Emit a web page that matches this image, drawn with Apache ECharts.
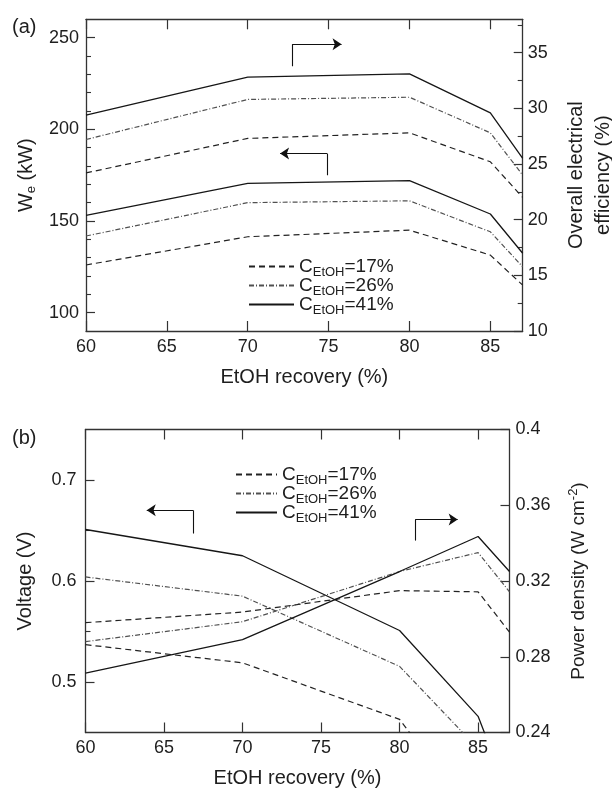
<!DOCTYPE html>
<html>
<head>
<meta charset="utf-8">
<script src="https://cdn.jsdelivr.net/npm/echarts@6/dist/echarts.min.js"></script>
<style>
  html, body { margin: 0; padding: 0; background: #fff; }
  #chart { width: 612px; height: 789px; }
</style>
</head>
<body>
<div id="chart"></div>
<script>
// EtOH recovery (%) at which each case was evaluated
const recovery = [60, 70, 80, 85, 87];
const concLabels = ['17%', '26%', '41%'];

// (a) electrical power output W_e (kW), left axis
const power17 = [126, 141.4, 145, 131.4, 115];
const power26 = [141.8, 160, 161, 144.1, 125];
const power41 = [153.1, 170.5, 172, 153.8, 132.4];

// (a) overall electrical efficiency (%), right axis
const eff17 = [24.2, 27.3, 27.8, 25.2, 22.0];
const eff26 = [27.2, 30.8, 31.0, 27.8, 24.0];
const eff41 = [29.4, 32.8, 33.1, 29.6, 25.5];

// (b) cell voltage (V), left axis
const volt17 = [0.537, 0.519, 0.463, 0.36, 0.33];
const volt26 = [0.604, 0.585, 0.5155, 0.434, 0.40];
const volt41 = [0.651, 0.625, 0.551, 0.466, 0.386];

// (b) power density (W cm^-2), right axis
const pden17 = [0.298, 0.3036, 0.3149, 0.3143, 0.293];
const pden26 = [0.288, 0.2985, 0.325, 0.335, 0.3143];
const pden41 = [0.2714, 0.289, 0.325, 0.3435, 0.325];

// tick values
const recoveryTicks = [60, 65, 70, 75, 80, 85];
const powerTicks = [100, 150, 200, 250];
const powerMinorTicks = [110, 120, 130, 140, 160, 170, 180, 190, 210, 220, 230, 240];
const effTicks = [10, 15, 20, 25, 30, 35];
const effMinorTicks = [12.5, 17.5, 22.5, 27.5, 32.5, 37.5];
const voltTicks = [0.5, 0.6, 0.7];
const voltMinorTicks = [0.55, 0.65];
const pdenTicks = [0.24, 0.28, 0.32, 0.36, 0.4];

// axis-pointer arrows, in data coordinates of each panel's left axis
const arrowARight = [[72.75, 234.4], [72.75, 246.4], [75.8, 246.4]];
const arrowALeft = [[74.9, 175.0], [74.9, 186.8], [72.0, 186.8]];
const arrowBLeft = [[66.85, 0.647], [66.85, 0.670], [63.9, 0.670]];
const arrowBRight = [[81.0, 0.640], [81.0, 0.661], [83.7, 0.661]];

const FONT = "'Liberation Sans', Arial, Helvetica, sans-serif";
const INK = '#1e1e1e';
const AXIS = '#333';

const styles = [
  { color: '#222', width: 1.2, type: [6, 4] },
  { color: '#505050', width: 1.2, type: [5, 2, 1, 2] },
  { color: '#161616', width: 1.3, type: 'solid' }
];

function pairs(values) {
  return recovery.map((x, i) => [x, values[i]]);
}

function lineSeries(name, values, xi, yi, style) {
  return {
    type: 'line', name: name, data: pairs(values),
    xAxisIndex: xi, yAxisIndex: yi,
    symbol: 'none', showSymbol: false, clip: true,
    lineStyle: style, itemStyle: { color: style.color },
    emphasis: { disabled: true }, z: 3
  };
}

function arrowSeries(points, xi, yi) {
  return [
    {
      type: 'lines', coordinateSystem: 'cartesian2d', xAxisIndex: xi, yAxisIndex: yi,
      symbol: ['none', 'none'],
      lineStyle: { color: '#111', width: 1.1, opacity: 1 },
      data: [{ coords: [points[0], points[1]] }], silent: true, z: 4
    },
    {
      type: 'lines', coordinateSystem: 'cartesian2d', xAxisIndex: xi, yAxisIndex: yi,
      symbol: ['none', 'arrow'], symbolSize: 9,
      lineStyle: { color: '#111', width: 1.1, opacity: 1 },
      data: [{ coords: [points[1], points[2]] }], silent: true, z: 4
    }
  ];
}

const labelStyle = { color: INK, fontFamily: FONT, fontSize: 18 };
const nameStyle = { color: INK, fontFamily: FONT, fontSize: 20 };

function xAxes(gridIndex, withName) {
  const base = {
    type: 'value', gridIndex: gridIndex, min: 60, max: 87,
    splitLine: { show: false },
    axisLine: { show: true, lineStyle: { color: AXIS, width: 1.3 } },
    axisTick: { show: true, inside: true, length: 10, customValues: recoveryTicks,
                lineStyle: { color: AXIS, width: 1.2 } }
  };
  return [
    Object.assign({}, base, {
      position: 'bottom',
      axisLabel: Object.assign({ show: true, margin: 7, customValues: recoveryTicks }, labelStyle),
      name: withName, nameLocation: 'middle', nameGap: 36, nameTextStyle: nameStyle
    }),
    Object.assign({}, base, { position: 'top', axisLabel: { show: false } })
  ];
}

function yAxis(gridIndex, position, min, max, ticks, opts) {
  return Object.assign({
    type: 'value', gridIndex: gridIndex, position: position, min: min, max: max,
    splitLine: { show: false },
    axisLine: { show: true, lineStyle: { color: AXIS, width: 1.3 } },
    axisTick: { show: true, inside: true, length: 9, customValues: ticks,
                lineStyle: { color: AXIS, width: 1.2 } },
    axisLabel: Object.assign({ show: true, margin: 7, customValues: ticks }, labelStyle)
  }, opts || {});
}

function minorAxis(gridIndex, position, min, max, ticks) {
  return {
    type: 'value', gridIndex: gridIndex, position: position, min: min, max: max,
    splitLine: { show: false },
    axisLine: { show: false },
    axisLabel: { show: false },
    axisTick: { show: true, inside: true, length: 5, customValues: ticks,
                lineStyle: { color: AXIS, width: 1.1 } }
  };
}

const richText = {
  m: { fontFamily: FONT, fontSize: 19, lineHeight: 24, color: INK },
  s: { fontFamily: FONT, fontSize: 13, lineHeight: 13, verticalAlign: 'bottom', color: INK },
  p: { fontFamily: FONT, fontSize: 13, lineHeight: 13, verticalAlign: 'top', color: INK }
};

function legend(left, top, iconWidth) {
  return {
    orient: 'vertical', left: left, top: top, itemGap: -2.5,
    itemWidth: iconWidth, itemHeight: 8, selectedMode: false,
    data: concLabels,
    itemStyle: { color: 'rgba(0,0,0,0)', borderWidth: 0 },
    formatter: name => '{m|C}{s|EtOH}{m|=' + name + '}',
    textStyle: { rich: richText }
  };
}

const series = [
  lineSeries(concLabels[0], power17, 0, 0, styles[0]),
  lineSeries(concLabels[1], power26, 0, 0, styles[1]),
  lineSeries(concLabels[2], power41, 0, 0, styles[2]),
  lineSeries(concLabels[0], eff17, 0, 1, styles[0]),
  lineSeries(concLabels[1], eff26, 0, 1, styles[1]),
  lineSeries(concLabels[2], eff41, 0, 1, styles[2]),
  lineSeries(concLabels[0], volt17, 2, 4, styles[0]),
  lineSeries(concLabels[1], volt26, 2, 4, styles[1]),
  lineSeries(concLabels[2], volt41, 2, 4, styles[2]),
  lineSeries(concLabels[0], pden17, 2, 5, styles[0]),
  lineSeries(concLabels[1], pden26, 2, 5, styles[1]),
  lineSeries(concLabels[2], pden41, 2, 5, styles[2])
].concat(
  arrowSeries(arrowARight, 0, 0),
  arrowSeries(arrowALeft, 0, 0),
  arrowSeries(arrowBLeft, 2, 4),
  arrowSeries(arrowBRight, 2, 4)
);

const option = {
  animation: false,
  backgroundColor: '#fff',
  textStyle: { fontFamily: FONT },
  grid: [
    { left: 86, top: 19.3, width: 436.7, height: 311.7, containLabel: false, outerBoundsMode: 'none' },
    { left: 85.5, top: 429.5, width: 424, height: 303, containLabel: false, outerBoundsMode: 'none' }
  ],
  xAxis: [].concat(xAxes(0, 'EtOH recovery (%)'), xAxes(1, 'EtOH recovery (%)')),
  yAxis: [
    yAxis(0, 'left', 90, 260, powerTicks, {
      name: '{m|W}{s|e}{m| (kW)}', nameLocation: 'middle', nameGap: 48,
      nameTextStyle: { rich: { m: Object.assign({}, richText.m, { fontSize: 20 }), s: richText.s } }
    }),
    yAxis(0, 'right', 10, 38, effTicks, {
      axisLabel: Object.assign({ show: true, margin: 5, customValues: effTicks }, labelStyle),
      name: 'Overall electrical\nefficiency (%)', nameLocation: 'middle', nameGap: 40,
      nameTextStyle: Object.assign({ lineHeight: 27 }, nameStyle)
    }),
    minorAxis(0, 'left', 90, 260, powerMinorTicks),
    minorAxis(0, 'right', 10, 38, effMinorTicks),
    yAxis(1, 'left', 0.45, 0.75, voltTicks, {
      axisLabel: Object.assign({ show: true, margin: 9, customValues: voltTicks }, labelStyle),
      name: 'Voltage (V)', nameLocation: 'middle', nameGap: 50, nameTextStyle: nameStyle
    }),
    yAxis(1, 'right', 0.24, 0.4, pdenTicks, {
      axisLabel: Object.assign({ show: true, margin: 6, customValues: pdenTicks }, labelStyle),
      name: '{m|Power density (W cm}{p|-2}{m|)}', nameLocation: 'middle', nameGap: 57,
      nameTextStyle: { rich: { m: Object.assign({}, richText.m, { fontSize: 19 }), p: richText.p } }
    }),
    minorAxis(1, 'left', 0.45, 0.75, voltMinorTicks)
  ],
  legend: [legend(243, 252, 45), legend(230, 460, 41)],
  graphic: [
    { type: 'text', left: 12, top: 17, style: { text: '(a)', fontFamily: FONT, fontSize: 20, fill: INK } },
    { type: 'text', left: 12, top: 428, style: { text: '(b)', fontFamily: FONT, fontSize: 20, fill: INK } }
  ],
  series: series
};

const chart = echarts.init(document.getElementById('chart'), null, { renderer: 'canvas' });
chart.setOption(option);
</script>
</body>
</html>
